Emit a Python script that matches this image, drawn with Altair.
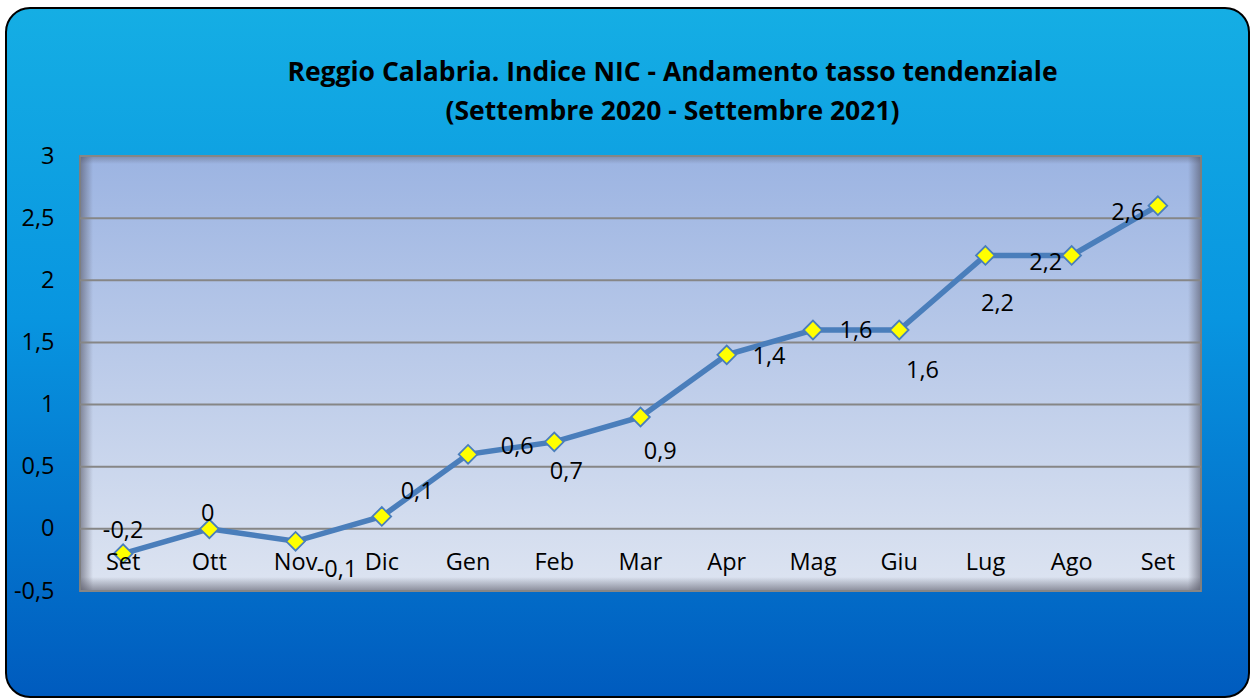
import altair as alt
import pandas as pd

# ---- data ----
months = ["Set", "Ott", "Nov", "Dic", "Gen", "Feb", "Mar", "Apr", "Mag", "Giu", "Lug", "Ago", "Set"]
values = [-0.2, 0.0, -0.1, 0.1, 0.6, 0.7, 0.9, 1.4, 1.6, 1.6, 2.2, 2.2, 2.6]
y_ticks = [-0.5, 0, 0.5, 1, 1.5, 2, 2.5, 3]
title_lines = [
    "Reggio Calabria. Indice NIC - Andamento tasso tendenziale",
    "(Settembre 2020 - Settembre 2021)",
]
# data-label placement (in category steps / value units), as laid out in the reference
label_dx = [0.0, -0.02, 0.48, 0.41, 0.57, 0.14, 0.23, 0.49, 0.50, 0.27, 0.14, -0.30, -0.35]
label_dy = [0.18, 0.12, -0.23, 0.20, 0.06, -0.24, -0.28, -0.02, -0.01, -0.33, -0.39, -0.06, -0.06]

W, H = 1121, 435
FONT = "Open Sans"
FS = 23.5

df = pd.DataFrame({"i": list(range(len(months))), "month": months, "value": values})
df["label"] = [f"{v:g}".replace(".", ",") for v in values]
df["lx"] = df["i"] + pd.Series(label_dx)
df["ly"] = df["value"] + pd.Series(label_dy)
grid_df = pd.DataFrame({"tick": y_ticks})
one = pd.DataFrame({"a": [0]})

xs = alt.Scale(domain=[-0.5, len(months) - 0.5], nice=False, zero=False)
ys = alt.Scale(domain=[-0.5, 3], nice=False, zero=False)
y_axis = alt.Axis(values=y_ticks, grid=False, ticks=False, domain=False,
                  labelExpr="replace(toString(datum.value), '.', ',')",
                  labelFont=FONT, labelFontSize=FS, labelColor="black",
                  labelPadding=26, zindex=1, title=None)


def vgrad(stops, x1=0, y1=0, x2=0, y2=1):
    return {"gradient": "linear", "x1": x1, "y1": y1, "x2": x2, "y2": y2,
            "stops": [{"offset": o, "color": c} for o, c in stops]}


outer = alt.Chart(one).mark_rect(
    fill=vgrad([(0, "#15AEE4"), (0.45, "#0895E0"), (1, "#005BBE")]),
    stroke="black", strokeWidth=2, cornerRadius=24,
).encode(x=alt.value(-74), x2=alt.value(W + 48), y=alt.value(-148), y2=alt.value(H + 106))

plot_bg = alt.Chart(one).mark_rect(
    fill=vgrad([(0, "#9CB4E2"), (1, "#DDE4F1")]),
    stroke="#7F7F7F", strokeWidth=2,
).encode(x=alt.value(0), x2=alt.value(W), y=alt.value(0), y2=alt.value(H))

sh = "rgba(80,80,95,0.55)"
sh0 = "rgba(80,80,95,0)"
shadow_l = alt.Chart(one).mark_rect(fill=vgrad([(0, sh), (1, sh0)], 0, 0, 1, 0)).encode(
    x=alt.value(1), x2=alt.value(13), y=alt.value(1), y2=alt.value(H - 1))
shadow_r = alt.Chart(one).mark_rect(fill=vgrad([(0, sh0), (1, sh)], 0, 0, 1, 0)).encode(
    x=alt.value(W - 13), x2=alt.value(W - 1), y=alt.value(1), y2=alt.value(H - 1))
shadow_b = alt.Chart(one).mark_rect(fill=vgrad([(0, sh0), (1, sh)])).encode(
    x=alt.value(1), x2=alt.value(W - 1), y=alt.value(H - 14), y2=alt.value(H - 1))
shadow_t = alt.Chart(one).mark_rect(fill=vgrad([(0, "rgba(80,80,95,0.35)"), (1, sh0)])).encode(
    x=alt.value(1), x2=alt.value(W - 1), y=alt.value(1), y2=alt.value(8))

title1 = alt.Chart(one).mark_text(
    font=FONT, fontSize=26.5, fontWeight="bold", color="black", align="center", baseline="middle",
).encode(x=alt.value(W / 2 + 32), y=alt.value(-83), text=alt.value(title_lines[0]))
title2 = alt.Chart(one).mark_text(
    font=FONT, fontSize=26.5, fontWeight="bold", color="black", align="center", baseline="middle",
).encode(x=alt.value(W / 2 + 32), y=alt.value(-44), text=alt.value(title_lines[1]))

grid = alt.Chart(grid_df).mark_rule(color="#868686", strokeWidth=2).encode(
    y=alt.Y("tick:Q", scale=ys, axis=y_axis))

line = alt.Chart(df).mark_line(color="#4A7EBB", strokeWidth=5.5).encode(
    x=alt.X("i:Q", scale=xs, axis=None),
    y=alt.Y("value:Q", scale=ys, axis=y_axis),
)

points = alt.Chart(df).mark_point(
    shape="diamond", filled=True, fill="#FFFF00", stroke="#4A7EBB",
    strokeWidth=1.8, size=350, opacity=1,
).encode(x=alt.X("i:Q", scale=xs, axis=None), y=alt.Y("value:Q", scale=ys, axis=y_axis))

month_labels = alt.Chart(df).mark_text(
    font=FONT, fontSize=FS, color="black", baseline="middle", align="center", dy=34,
).encode(x=alt.X("i:Q", scale=xs, axis=None), y=alt.datum(0), text="month:N")

data_labels = alt.Chart(df).mark_text(
    font=FONT, fontSize=FS, color="black", baseline="middle", align="center",
).encode(x=alt.X("lx:Q", scale=xs, axis=None), y=alt.Y("ly:Q", scale=ys, axis=y_axis), text="label:N")

chart = alt.layer(
    outer, plot_bg, shadow_t, shadow_l, shadow_r, shadow_b, title1, title2, grid,
    line, points, month_labels, data_labels,
).properties(
    width=W, height=H,
    padding={"left": 5, "top": 7, "right": 0, "bottom": 0},
).configure_view(stroke=None)

chart.save("out.html", embed_options={"renderer": "svg", "actions": False})
